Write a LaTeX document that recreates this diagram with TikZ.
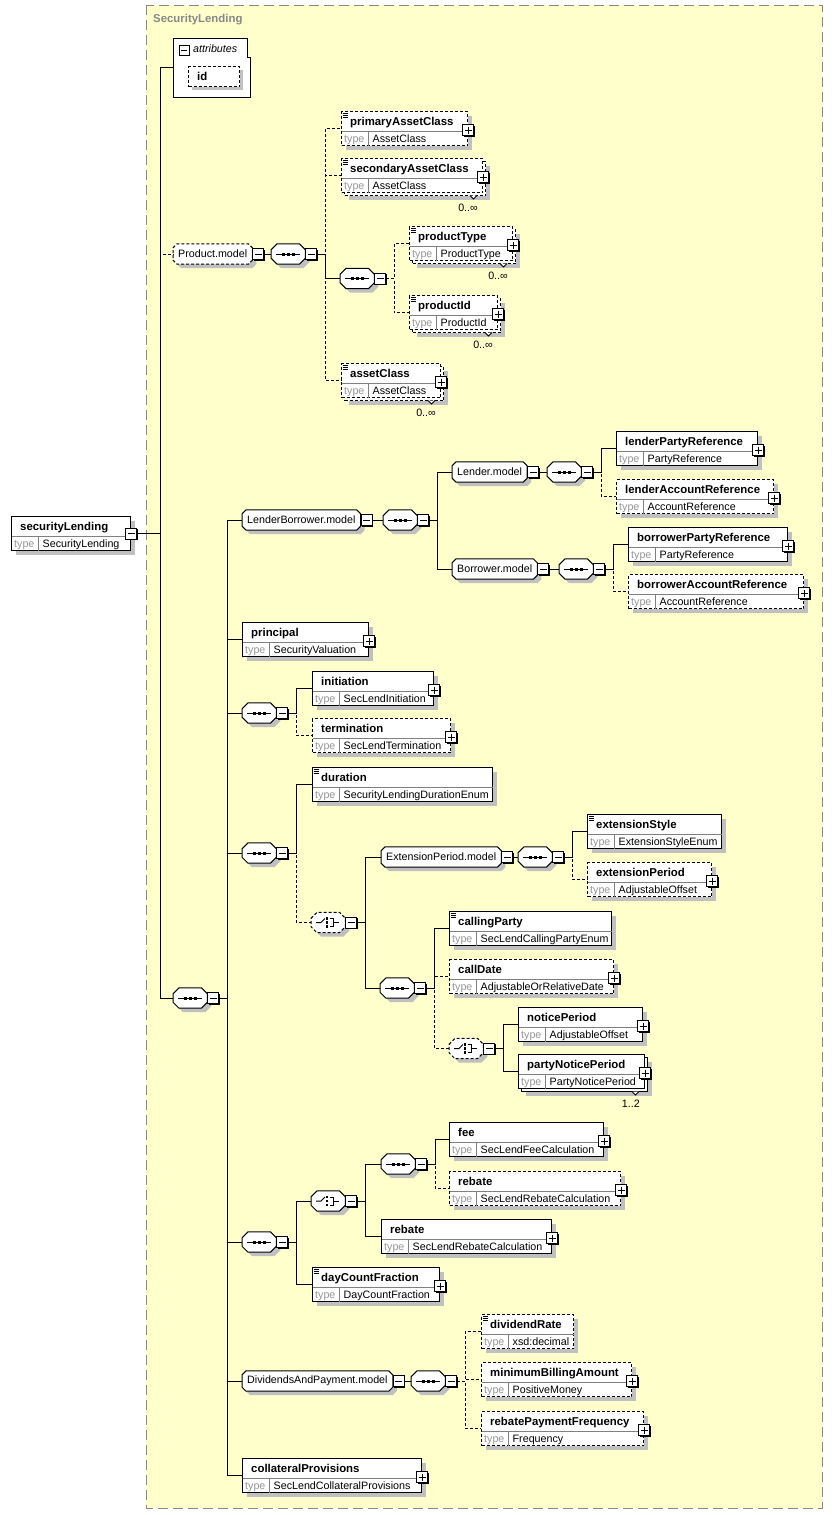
\documentclass[tikz,border=0pt]{standalone}
\usepackage{fontspec}
\setmainfont{Liberation Sans}
\usetikzlibrary{calc,shadows}
\definecolor{bgc}{RGB}{255,255,204}
\definecolor{framec}{RGB}{136,136,136}
\definecolor{shadowc}{RGB}{192,192,192}
\definecolor{typegray}{RGB}{150,150,150}
\definecolor{divc}{RGB}{128,128,128}
\newcommand{\nmfont}{\fontsize{11.4}{13}\selectfont\bfseries}
\newcommand{\tyfont}{\fontsize{10.7}{12}\selectfont}
\tikzset{
 conn/.style={line width=1pt},
 opt/.style={dash pattern=on 3pt off 2pt},
 elbox/.style={draw, fill=white, line width=1pt, minimum height=34pt, inner sep=0pt, anchor=north west},
 shad/.style={drop shadow={shadow xshift=4pt, shadow yshift=-4pt, fill=shadowc, opacity=1}},
 nm/.style={font=\nmfont, inner sep=0pt, anchor=base west},
 ty/.style={font=\tyfont, inner sep=0pt, anchor=base west},
 tl/.style={font=\tyfont, text=typegray, inner sep=0pt, anchor=base west},
 divl/.style={draw=divc, line width=1pt},
 grpbox/.style={inner xsep=5pt, inner ysep=0pt, minimum height=20pt, font=\tyfont, anchor=west},
 gtxt/.style={font=\tyfont, inner sep=0pt},
 cbox/.style={minimum width=34pt, minimum height=20pt, inner sep=0pt, anchor=west},
 mbox/.style={draw, fill=white, minimum size=11pt, inner sep=0pt, line width=1pt, anchor=west,
   drop shadow={shadow xshift=1pt, shadow yshift=-1pt, fill=black, opacity=1},
   path picture={\draw[line width=1pt] ([xshift=2pt]path picture bounding box.west) -- ([xshift=-2pt]path picture bounding box.east);}},
 pbox/.style={mbox, anchor=center,
   path picture={\draw[line width=1pt] ([xshift=2pt]path picture bounding box.west) -- ([xshift=-2pt]path picture bounding box.east);
   \draw[line width=1pt] ([yshift=-2pt]path picture bounding box.north) -- ([yshift=2pt]path picture bounding box.south);}},
}
\newcommand{\octpath}[4]{($(#1.north west)+(#3,#2+#4)$) -- ($(#1.north west)+(#2+#3,#4)$) -- ($(#1.north east)+(#3-#2,#4)$) -- ($(#1.north east)+(#3,#2+#4)$) -- ($(#1.south east)+(#3,#4-#2)$) -- ($(#1.south east)+(#3-#2,#4)$) -- ($(#1.south west)+(#2+#3,#4)$) -- ($(#1.south west)+(#3,#4-#2)$) -- cycle}
\newcommand{\xel}[7]{%
 \node[elbox, minimum width=#4pt, #5] (#1) at (#2,#3) {};
 \draw[divl] ([xshift=0.5pt,yshift=-20pt]#1.north west) -- ([xshift=-0.5pt,yshift=-20pt]#1.north east);
 \draw[divl] ([xshift=27pt,yshift=-20pt]#1.north west) -- ([xshift=27pt,yshift=0.5pt]#1.south west);
 \node[nm] (#1-n) at ([xshift=9pt,yshift=-14pt]#1.north west) {#6};
 \node[tl] (#1-l) at ([xshift=3pt,yshift=-31pt]#1.north west) {type};
 \node[ty] (#1-y) at ([xshift=31.5pt,yshift=-31pt]#1.north west) {#7};
}
\newcommand{\xeq}[1]{\foreach \k in {2.5,4.5,6.5}{\draw[line width=0.7pt] ([xshift=1.5pt,yshift=-\k pt]#1.north west) -- ++(5,0);}}
\newcommand{\xpl}[1]{\node[pbox] (#1-p) at ([yshift=-19pt]#1.north east) {};}
\newcommand{\xbk}[5]{%
 \node[elbox, minimum width=#4pt, #5, shad] (#1-b) at (#2+3,#3+3) {};
 \draw[line width=0.8pt, fill=white] ([xshift=-16pt,yshift=0.5pt]#1-b.south east) -- ++(3.5,3.5) -- ++(3.5,-3.5);
}
\newcommand{\xmu}[2]{\node[ty, anchor=base east] (#1-c) at ([xshift=-8pt,yshift=-15pt]#1-b.south east) {#2};}
\newcommand{\xgrp}[5]{%
 \node[grpbox] (#1) at (#2,#3) {\phantom{#4}};
 \fill[shadowc] \octpath{#1}{4}{4}{4};
 \filldraw[fill=white, line width=1pt, #5] \octpath{#1}{4}{0}{0};
 \node[gtxt] (#1-t) at (#1.center) {#4};
 \node[mbox] (#1-m) at (#1.east) {};
}
\newcommand{\xseq}[4]{%
 \node[cbox] (#1) at (#2,#3) {};
 \fill[shadowc] \octpath{#1}{6}{4}{4};
 \filldraw[fill=white, line width=1pt, #4] \octpath{#1}{6}{0}{0};
 \draw[line width=1pt] ([xshift=5pt]#1.west) -- ([xshift=-5pt]#1.east);
 \foreach \k in {12,17,22}{\fill ([xshift=\k pt]#1.west) +(-1.5,-1.5) rectangle +(1.5,1.5);}
 \node[mbox] (#1-m) at (#1.east) {};
}
\newcommand{\xcho}[4]{%
 \node[cbox] (#1) at (#2,#3) {};
 \fill[shadowc] \octpath{#1}{6}{4}{4};
 \filldraw[fill=white, line width=1pt, #4] \octpath{#1}{6}{0}{0};
 \draw[line width=1pt] ([xshift=5pt]#1.west) -- ++(5,0) -- ++(4,-4);
 \foreach \k in {-4,0,4}{\fill ([xshift=16pt,yshift=\k pt]#1.west) +(-1.3,-1.3) rectangle +(1.3,1.3);}
 \draw[line width=1pt] ([xshift=19pt,yshift=4pt]#1.west) -- ++(3,0) -- ++(0,8) -- ++(-3,0);
 \draw[line width=1pt] ([xshift=22pt]#1.west) -- ++(6,0);
 \node[mbox] (#1-m) at (#1.east) {};
}
\begin{document}
\begin{tikzpicture}[x=1pt,y=-1pt]
\useasboundingbox (0,0) rectangle (832,1515);
\filldraw[fill=bgc, draw=framec, line width=1pt, dash pattern=on 10pt off 5pt] (146,5) rectangle (822,1508);
\node[font=\nmfont, text=framec, anchor=base west, inner sep=0pt] (frt) at (153,23) {SecurityLending};
% attributes
\node[inner sep=0pt, minimum width=77pt, minimum height=59pt, anchor=north west] (attr) at (173,38) {};
\draw[line width=1pt, fill=white] (173,38) -- (247,38) -- (247,57) -- (250,57) -- (250,97) -- (173,97) -- cycle;
\node[mbox, minimum size=10pt, anchor=center] (attr-m) at (184,50) {};
\node[font=\tyfont\itshape, anchor=base west, inner sep=0pt] (attr-t) at (193,52) {attributes};
\node[elbox, opt, minimum width=51pt, minimum height=20pt, drop shadow={shadow xshift=3pt, shadow yshift=-3pt, fill=shadowc, opacity=1}] (idb) at (188,66) {};
\node[nm] (idb-n) at (197,80) {id};
% root
\xel{sl}{11}{516}{119}{shad}{securityLending}{SecurityLending}
\node[mbox, anchor=center] (sl-m) at (sl.east) {};
% compositors and groups
\xgrp{pm}{173}{254}{Product.model}{opt}
\xseq{pms}{271}{254}{}
\xseq{pis}{340}{278.5}{}
\xseq{ms}{173}{998}{}
\xgrp{lbm}{242}{520}{LenderBorrower.model}{}
\xseq{lbs}{383}{520}{}
\xgrp{lm}{452}{472}{Lender.model}{}
\xseq{ls}{547}{472}{}
\xgrp{bm}{452}{569}{Borrower.model}{}
\xseq{bs}{559}{569}{}
\xseq{s2}{242}{713}{}
\xseq{s3}{242}{853}{}
\xcho{c1}{311}{922.5}{opt}
\xgrp{epm}{381}{857}{ExtensionPeriod.model}{}
\xseq{eps}{518}{857}{}
\xseq{cs}{380}{988}{}
\xcho{c2}{449}{1048.5}{opt}
\xseq{s4}{242}{1242}{}
\xcho{c3}{311}{1201}{}
\xseq{s5}{381}{1164}{}
\xgrp{dpm}{242}{1381}{DividendsAndPayment.model}{}
\xseq{dps}{411}{1381}{}
% elements
\xel{pac}{341}{111}{126}{opt,shad}{primaryAssetClass}{AssetClass}\xeq{pac}\xpl{pac}
\xbk{sac}{341}{158}{141}{opt}
\xel{sac}{341}{158}{141}{opt}{secondaryAssetClass}{AssetClass}\xeq{sac}\xpl{sac}\xmu{sac}{0..∞}
\xbk{pty}{409}{226}{103}{opt}
\xel{pty}{409}{226}{103}{opt}{productType}{ProductType}\xeq{pty}\xpl{pty}\xmu{pty}{0..∞}
\xbk{pid}{409}{295}{88}{opt}
\xel{pid}{409}{295}{88}{opt}{productId}{ProductId}\xeq{pid}\xpl{pid}\xmu{pid}{0..∞}
\xbk{acl}{341}{363}{99}{opt}
\xel{acl}{341}{363}{99}{opt}{assetClass}{AssetClass}\xeq{acl}\xpl{acl}\xmu{acl}{0..∞}
\xel{lpr}{616}{431}{141}{shad}{lenderPartyReference}{PartyReference}\xpl{lpr}
\xel{lar}{616}{479}{157}{opt,shad}{lenderAccountReference}{AccountReference}\xpl{lar}
\xel{bpr}{628}{527}{159}{shad}{borrowerPartyReference}{PartyReference}\xpl{bpr}
\xel{bar}{628}{574}{175}{opt,shad}{borrowerAccountReference}{AccountReference}\xpl{bar}
\xel{prin}{242}{622}{126}{shad}{principal}{SecurityValuation}\xpl{prin}
\xel{ini}{312}{671}{121}{shad}{initiation}{SecLendInitiation}\xpl{ini}
\xel{ter}{312}{718}{138}{opt,shad}{termination}{SecLendTermination}\xpl{ter}
\xel{dur}{312}{767}{180}{shad}{duration}{SecurityLendingDurationEnum}\xeq{dur}
\xel{exs}{587}{814}{134}{shad}{extensionStyle}{ExtensionStyleEnum}\xeq{exs}
\xel{exp}{587}{862}{124}{opt,shad}{extensionPeriod}{AdjustableOffset}\xpl{exp}
\xel{cpt}{449}{911}{162}{shad}{callingParty}{SecLendCallingPartyEnum}\xeq{cpt}
\xel{cdt}{449}{959}{164}{opt,shad}{callDate}{AdjustableOrRelativeDate}\xpl{cdt}
\xel{ntp}{518}{1007}{124}{shad}{noticePeriod}{AdjustableOffset}\xpl{ntp}
\xbk{pnp}{518}{1054}{126}{}
\xel{pnp}{518}{1054}{126}{}{partyNoticePeriod}{PartyNoticePeriod}\xpl{pnp}\xmu{pnp}{1..2}
\xel{fee}{449}{1122}{154}{shad}{fee}{SecLendFeeCalculation}\xpl{fee}
\xel{reba}{449}{1171}{171}{opt,shad}{rebate}{SecLendRebateCalculation}\xpl{reba}
\xel{rebb}{381}{1219}{170}{shad}{rebate}{SecLendRebateCalculation}\xpl{rebb}
\xel{dcf}{312}{1267}{127}{shad}{dayCountFraction}{DayCountFraction}\xeq{dcf}\xpl{dcf}
\xel{dvr}{481}{1314}{92}{opt,shad}{dividendRate}{xsd:decimal}\xeq{dvr}
\xel{mba}{481}{1362}{150}{opt,shad}{minimumBillingAmount}{PositiveMoney}\xpl{mba}
\xel{rpf}{481}{1411}{162}{opt,shad}{rebatePaymentFrequency}{Frequency}\xpl{rpf}
\xel{colp}{242}{1458}{179}{shad}{collateralProvisions}{SecLendCollateralProvisions}\xpl{colp}
% connectors
\draw[conn] (sl-m.east) -- ++(23,0) |- (attr.west);
\draw[conn,opt] (sl-m.east) -- ++(23,0) |- (pm.west);
\draw[conn] (sl-m.east) -- ++(23,0) |- (ms.west);
\draw[conn] (pm-m.east) -- (pms.west);
\draw[conn,opt] (pms-m.east) -- ++(8,0) |- (pac.west);
\draw[conn,opt] (pms-m.east) -- ++(8,0) |- (sac.west);
\draw[conn,opt] (pms-m.east) -- ++(8,0) |- (acl.west);
\draw[conn] (pms-m.east) -- ++(8,0) |- (pis.west);
\draw[conn,opt] (pis-m.east) -- ++(8,0) |- (pty.west);
\draw[conn,opt] (pis-m.east) -- ++(8,0) |- (pid.west);
\foreach \c in {lbm,prin,s2,s3,s4,dpm,colp}{\draw[conn] (ms-m.east) -- ++(8,0) |- (\c.west);}
\draw[conn] (lbm-m.east) -- (lbs.west);
\draw[conn] (lbs-m.east) -- ++(8,0) |- (lm.west);
\draw[conn] (lbs-m.east) -- ++(8,0) |- (bm.west);
\draw[conn] (lm-m.east) -- (ls.west);
\draw[conn,opt] (ls-m.east) -- ++(8,0) |- (lar.west);
\draw[conn] (ls-m.east) -- ++(8,0) |- (lpr.west);
\draw[conn] (bm-m.east) -- (bs.west);
\draw[conn,opt] (bs-m.east) -- ++(8,0) |- (bar.west);
\draw[conn] (bs-m.east) -- ++(8,0) |- (bpr.west);
\draw[conn,opt] (s2-m.east) -- ++(8,0) |- (ter.west);
\draw[conn] (s2-m.east) -- ++(8,0) |- (ini.west);
\draw[conn,opt] (s3-m.east) -- ++(8,0) |- (c1.west);
\draw[conn] (s3-m.east) -- ++(8,0) |- (dur.west);
\draw[conn] (c1-m.east) -- ++(8,0) |- (epm.west);
\draw[conn] (c1-m.east) -- ++(8,0) |- (cs.west);
\draw[conn] (epm-m.east) -- (eps.west);
\draw[conn,opt] (eps-m.east) -- ++(8,0) |- (exp.west);
\draw[conn] (eps-m.east) -- ++(8,0) |- (exs.west);
\draw[conn,opt] (cs-m.east) -- ++(8,0) |- (cdt.west);
\draw[conn,opt] (cs-m.east) -- ++(8,0) |- (c2.west);
\draw[conn] (cs-m.east) -- ++(8,0) |- (cpt.west);
\draw[conn] (c2-m.east) -- ++(8,0) |- (ntp.west);
\draw[conn] (c2-m.east) -- ++(8,0) |- (pnp.west);
\draw[conn] (s4-m.east) -- ++(8,0) |- (c3.west);
\draw[conn] (s4-m.east) -- ++(8,0) |- (dcf.west);
\draw[conn] (c3-m.east) -- ++(8,0) |- (s5.west);
\draw[conn] (c3-m.east) -- ++(8,0) |- (rebb.west);
\draw[conn,opt] (s5-m.east) -- ++(8,0) |- (reba.west);
\draw[conn] (s5-m.east) -- ++(8,0) |- (fee.west);
\draw[conn] (dpm-m.east) -- (dps.west);
\draw[conn,opt] (dps-m.east) -- ++(8,0) |- (dvr.west);
\draw[conn,opt] (dps-m.east) -- ++(8,0) |- (mba.west);
\draw[conn,opt] (dps-m.east) -- ++(8,0) |- (rpf.west);
\end{tikzpicture}
\end{document}
